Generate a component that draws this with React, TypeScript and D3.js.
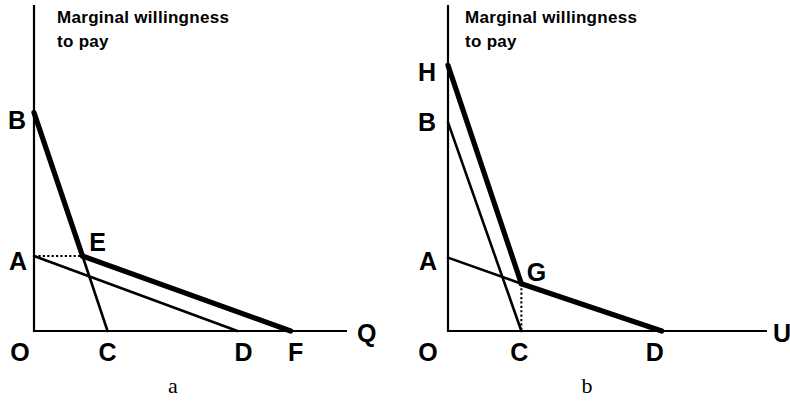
import React from "react";
import * as d3 from "d3";

// Panel a: private good — individual demand curves summed horizontally
const namesA = ["O", "B", "A", "E", "C", "D", "F"];
const qtyA = [0, 0, 0, 15.5, 23.5, 65, 82];
const wtpA = [0, 67, 23, 23, 0, 0, 0];

// Panel b: public good — individual demand curves summed vertically
const namesB = ["O", "H", "B", "A", "G", "C", "D"];
const qtyB = [0, 0, 0, 0, 23, 23, 67];
const wtpB = [0, 81.5, 64, 22.5, 14.5, 0, 0];

const axisTitle = ["Marginal willingness", "to pay"];
const quantityNames = ["Q", "U"];
const panelNames = ["a", "b"];

type Seg = { from: string; to: string; kind: "thin" | "thick" | "dot" };

const segsA: Seg[] = [
  { from: "B", to: "E", kind: "thick" },
  { from: "E", to: "C", kind: "thin" },
  { from: "A", to: "D", kind: "thin" },
  { from: "E", to: "F", kind: "thick" },
  { from: "A", to: "E", kind: "dot" },
];
const segsB: Seg[] = [
  { from: "B", to: "C", kind: "thin" },
  { from: "A", to: "G", kind: "thin" },
  { from: "H", to: "G", kind: "thick" },
  { from: "G", to: "D", kind: "thick" },
  { from: "G", to: "C", kind: "dot" },
];

// label offsets (px) relative to each point
const offA: Record<string, [number, number]> = {
  O: [-14, 21], B: [-17, 7], A: [-16, 5], E: [15, -14], C: [0, 21], D: [6, 21], F: [5, 21],
};
const offB: Record<string, [number, number]> = {
  O: [-20, 21], H: [-21, 7], B: [-21, 0], A: [-20, 3], G: [15, -12], C: [-2, 21], D: [-7, 21],
};

const strokeFor = { thin: 2.6, thick: 5.2, dot: 2 };

function Panel(props: {
  names: string[]; qty: number[]; wtp: number[]; segs: Seg[];
  off: Record<string, [number, number]>;
  x0: number; x1: number; qName: string; qGap: number; pName: string; titleX: number;
}) {
  const { names, qty, wtp, segs, off, x0, x1, qName, qGap, pName, titleX } = props;
  const x = d3.scaleLinear().domain([0, 100]).range([x0, x1]);
  const y = d3.scaleLinear().domain([0, 100]).range([331, 5]);
  const pt = (n: string): [number, number] => {
    const i = names.indexOf(n);
    return [x(qty[i]), y(wtp[i])];
  };
  const line = d3.line<[number, number]>();
  const labelFont = {
    fontFamily: "'Liberation Sans', Arial, sans-serif",
    fontWeight: 700,
    fontSize: 25,
  } as const;
  return (
    <g>
      {/* axes */}
      <path d={line([[x(0), y(100)], [x(0), y(0)], [x(100), y(0)]]) || ""}
        fill="none" stroke="#000" strokeWidth={2.2} />
      {segs.map((s, i) => (
        <path key={i} d={line([pt(s.from), pt(s.to)]) || ""}
          fill="none" stroke="#000" strokeWidth={strokeFor[s.kind]}
          strokeDasharray={s.kind === "dot" ? "2.2 2.2" : undefined}
          strokeLinecap={s.kind === "dot" ? "butt" : "round"} />
      ))}
      {names.map((n) => {
        const [px, py] = pt(n);
        const [dx, dy] = off[n];
        return (
          <text key={n} x={px + dx} y={py + dy} dy="0.36em" textAnchor="middle" style={labelFont}>{n}</text>
        );
      })}
      <text x={x(100) + qGap} y={y(0) + 2} dy="0.36em" textAnchor="start" style={labelFont}>{qName}</text>
      {axisTitle.map((t, i) => (
        <text key={t} x={titleX} y={23 + i * 24} fontFamily="'Liberation Sans', Arial, sans-serif"
          fontWeight={700} fontSize={17} letterSpacing={0.3}>{t}</text>
      ))}
      <text x={x0 + 139} y={393} textAnchor="middle"
        fontFamily="'Liberation Serif', 'Times New Roman', serif" fontSize={22}>{pName}</text>
    </g>
  );
}

export default function App() {
  return (
    <svg width={790} height={401} style={{ position: "absolute", left: 0, top: 0, background: "#fff" }}>
      <rect width={790} height={401} fill="#fff" />
      <Panel names={namesA} qty={qtyA} wtp={wtpA} segs={segsA} off={offA}
        x0={34} x1={347} qName={quantityNames[0]} qGap={10} pName={panelNames[0]} titleX={57} />
      <Panel names={namesB} qty={qtyB} wtp={wtpB} segs={segsB} off={offB}
        x0={448} x1={767} qName={quantityNames[1]} qGap={6} pName={panelNames[1]} titleX={465} />
    </svg>
  );
}
